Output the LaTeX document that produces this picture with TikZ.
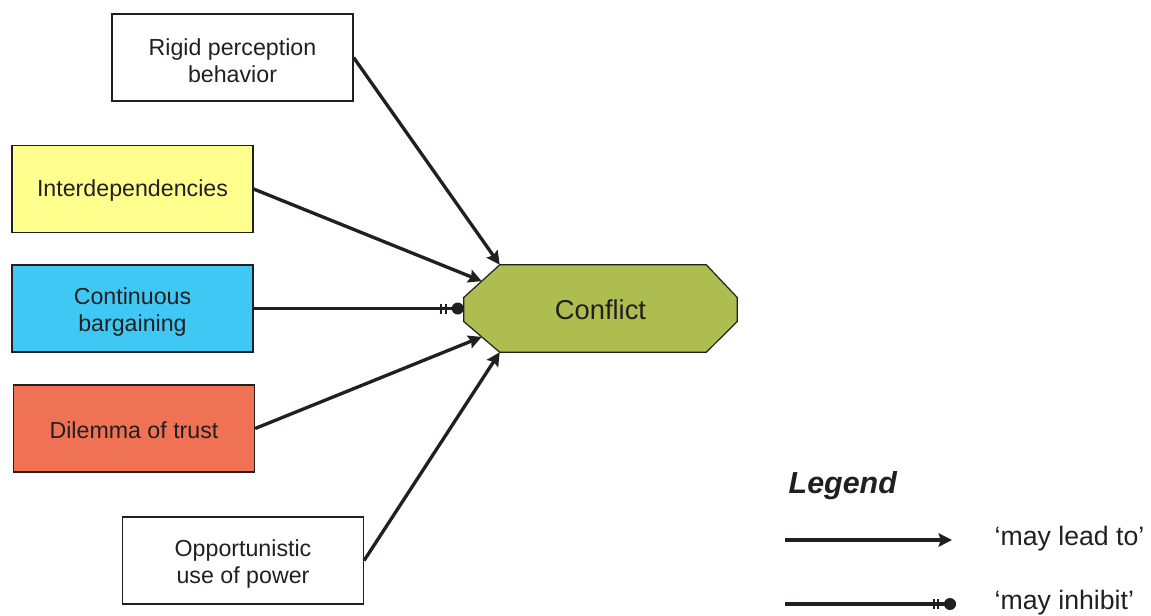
\documentclass[tikz,border=0pt]{standalone}
\usepackage{fontspec}
\setmainfont{Liberation Sans}
\usetikzlibrary{arrows.meta,calc,decorations.markings,backgrounds}

\definecolor{ink}{HTML}{231F20}
\definecolor{fillYellow}{HTML}{FFFF8E}
\definecolor{fillCyan}{HTML}{3FC8F4}
\definecolor{fillOrange}{HTML}{F07254}
\definecolor{fillOlive}{HTML}{ADBD4F}

% taller first line, so two-line labels sit a little lower in their boxes
\newcommand{\toplift}{\rule{0pt}{17.5pt}}

\tikzset{
  factor/.style={draw=ink, line width=0.9pt, minimum width=180.75pt,
    minimum height=65.25pt, inner sep=0pt, align=center, text=ink,
    font=\fontsize{17.4}{20.5}\selectfont},
  oneline/.style={text height=15.5pt},
  lead/.style={draw=ink, line width=2.5pt,
    -{Stealth[length=10pt,width=10pt,inset=1.5pt]}},
  inhibit/.style={draw=ink, line width=2.5pt, postaction={decorate},
    decoration={markings, mark=at position 1 with {
      \fill[ink] (-6,0) circle (6);
      \draw[ink, line width=1.5pt] (-18,-5) -- (-18,5) (-22.5,-5) -- (-22.5,5);}}},
  legendtext/.style={anchor=west, text=ink, font=\fontsize{20}{24}\selectfont}
}

\begin{document}
\begin{tikzpicture}[x=0.75pt, y=-0.75pt]
\useasboundingbox (0,0) rectangle (1151,615);

% influencing factors
\node[factor] (rigid) at (232.5,57.5) {\toplift Rigid perception\\behavior};
\node[factor, oneline, fill=fillYellow] (inter) at (132.5,189) {Interdependencies};
\node[factor, fill=fillCyan] (cont) at (132.5,308.5) {\toplift Continuous\\bargaining};
\node[factor, oneline, fill=fillOrange] (dilemma) at (134,428.5) {Dilemma of trust};
\node[factor] (opp) at (243,560.5) {\toplift Opportunistic\\use of power};

% central outcome: chamfered box
\node[minimum width=204.75pt, minimum height=65.25pt, inner sep=0pt, text=ink,
  text height=16.5pt, font=\fontsize{20.5}{24}\selectfont] (conf) at (600.5,308.5) {Conflict};
\coordinate (cnw) at ($(conf.north west)+(36,0)$);
\coordinate (cne) at ($(conf.north east)+(-31,0)$);
\coordinate (cen) at ($(conf.east)+(0,-11)$);
\coordinate (ces) at ($(conf.east)+(0,13)$);
\coordinate (cse) at ($(conf.south east)+(-31,0)$);
\coordinate (csw) at ($(conf.south west)+(36,0)$);
\coordinate (cws) at ($(conf.west)+(0,13)$);
\coordinate (cwn) at ($(conf.west)+(0,-11)$);
\coordinate (cupper) at ($(cwn)!0.5!(cnw)$);
\coordinate (clower) at ($(cws)!0.5!(csw)$);
\begin{scope}[on background layer]
  \draw[ink, line width=0.9pt, fill=fillOlive] (cnw) -- (cne) -- (cen) -- (ces)
    -- (cse) -- (csw) -- (cws) -- (cwn) -- cycle;
\end{scope}

% connectors
\draw[lead] (rigid.east) -- (cnw);
\draw[lead] (inter.east) -- (cupper);
\draw[inhibit] (cont.east) -- (conf.west);
\draw[lead] (dilemma.east) -- (clower);
\draw[lead] (opp.east) -- (csw);

% legend
\node[anchor=west, text=ink, font=\fontsize{22.8}{26}\selectfont\bfseries\itshape]
  (legend) at (784,486) {Legend};
\coordinate (la1) at (785,540);
\coordinate (la2) at (952,540);
\coordinate (lb1) at (785,604);
\coordinate (lb2) at (956,604);
\draw[lead] (la1) -- (la2);
\draw[inhibit] (lb1) -- (lb2);
\node[legendtext] (leadlbl) at (990,539) {‘may lead to’};
\node[legendtext] (inhlbl) at (990,603) {‘may inhibit’};
\end{tikzpicture}
\end{document}
